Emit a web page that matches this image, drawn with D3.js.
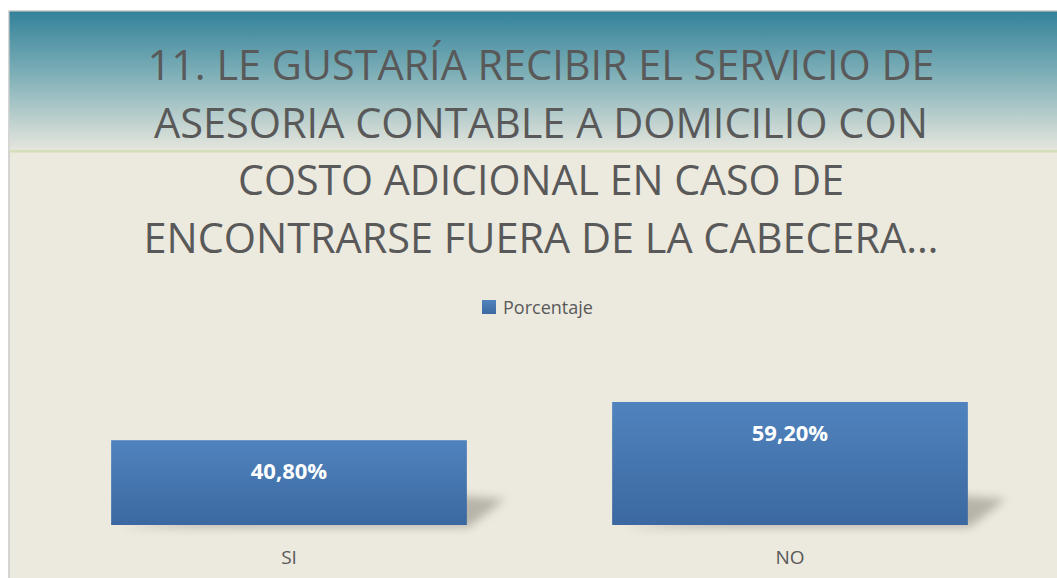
<head>
  <script src="https://d3js.org/d3.v7.min.js"></script>
</head>
<style>
  body { margin: 0; background: #fff; }
  text { font-family: "Open Sans", "Noto Sans", sans-serif; }
</style>
<body>
  <svg id="chart"></svg>
</body>
<script>
  var w = 1057;
  var h = 578;

  // data
  var categories = ["SI", "NO"];
  var values = [40.8, 59.2];
  var valueLabels = ["40,80%", "59,20%"];
  var seriesName = "Porcentaje";
  var titleLines = [
    "11. LE GUSTARÍA RECIBIR EL SERVICIO DE",
    "ASESORIA CONTABLE A DOMICILIO CON",
    "COSTO ADICIONAL EN CASO DE",
    "ENCONTRARSE FUERA DE LA CABECERA…"
  ];
  var titleWidths = [787, 774, 606, 795];

  var svg = d3.select("#chart").attr("width", w).attr("height", h);
  var defs = svg.append("defs");

  var bg = defs.append("linearGradient").attr("id", "hdr").attr("x1", 0).attr("y1", 0).attr("x2", 0).attr("y2", 1);
  bg.append("stop").attr("offset", "0%").attr("stop-color", "#33829a");
  bg.append("stop").attr("offset", "45%").attr("stop-color", "#7eafb7");
  bg.append("stop").attr("offset", "100%").attr("stop-color", "#e6e6de");

  var bar = defs.append("linearGradient").attr("id", "bar").attr("x1", 0).attr("y1", 0).attr("x2", 0).attr("y2", 1);
  bar.append("stop").attr("offset", "0%").attr("stop-color", "#5083be");
  bar.append("stop").attr("offset", "100%").attr("stop-color", "#3b68a0");

  defs.append("filter").attr("id", "blur").attr("x", "-50%").attr("y", "-50%").attr("width", "200%").attr("height", "200%")
    .append("feGaussianBlur").attr("stdDeviation", 5);

  // frame + background
  svg.append("rect").attr("x", 9).attr("y", 11).attr("width", w).attr("height", h)
    .attr("fill", "#ece9df").attr("stroke", "#c9c9c9").attr("stroke-width", 1.5);
  svg.append("rect").attr("x", 9.5).attr("y", 11.5).attr("width", w).attr("height", 139)
    .attr("fill", "url(#hdr)");
  svg.append("rect").attr("x", 9.5).attr("y", 150).attr("width", w).attr("height", 2.5)
    .attr("fill", "#d3e0b9");

  // title
  svg.append("g").selectAll("text")
    .data(titleLines)
    .enter().append("text")
    .attr("x", 541)
    .attr("y", function(d, i){ return 80 + i * 57.5; })
    .attr("text-anchor", "middle")
    .attr("font-size", 42)
    .attr("fill", "#595959")
    .attr("textLength", function(d, i){ return titleWidths[i]; })
    .attr("lengthAdjust", "spacingAndGlyphs")
    .text(function(d){ return d; });

  // legend
  svg.append("rect").attr("x", 482).attr("y", 300).attr("width", 14).attr("height", 14).attr("fill", "url(#bar)");
  svg.append("text").attr("x", 503).attr("y", 314).attr("font-size", 18).attr("fill", "#595959").text(seriesName);

  // scales
  var x = d3.scaleBand()
    .domain(categories)
    .range([38.5, 1040.5])
    .paddingInner(0.29)
    .paddingOuter(0.145);

  var y = d3.scaleLinear()
    .domain([0, 100])
    .range([525, 317.2]);

  var data = categories.map(function(c, i){ return {cat: c, value: values[i], label: valueLabels[i]}; });

  // shadows
  svg.append("g").selectAll("path")
    .data(data)
    .enter().append("path")
    .attr("d", function(d){
      var x0 = x(d.cat), x1 = x0 + x.bandwidth(), b = y(0);
      return "M" + (x0 + 10) + "," + (b + 2) + "L" + (x1 + 2) + "," + (b + 2) +
             "L" + (x1 + 38) + "," + (b - 26) + "L" + (x1 - 20) + "," + (b - 30) + "Z";
    })
    .attr("fill", "#8a877f")
    .attr("opacity", 0.55)
    .attr("filter", "url(#blur)");

  // bars
  svg.append("g").selectAll("rect")
    .data(data)
    .enter().append("rect")
    .attr("x", function(d){ return x(d.cat); })
    .attr("y", function(d){ return y(d.value); })
    .attr("width", x.bandwidth())
    .attr("height", function(d){ return y(0) - y(d.value); })
    .attr("fill", "url(#bar)");

  // value labels
  svg.append("g").selectAll("text")
    .data(data)
    .enter().append("text")
    .attr("x", function(d){ return x(d.cat) + x.bandwidth() / 2; })
    .attr("y", function(d){ return y(d.value) + 39; })
    .attr("text-anchor", "middle")
    .attr("font-size", 22)
    .attr("font-weight", "bold")
    .attr("fill", "#ffffff")
    .text(function(d){ return d.label; });

  // category axis
  var xAxis = svg.append("g")
    .attr("transform", "translate(0," + y(0) + ")")
    .call(d3.axisBottom(x).tickSize(0).tickPadding(39));
  xAxis.select(".domain").remove();
  xAxis.selectAll("text")
    .attr("font-size", 19)
    .attr("font-family", "'Open Sans', 'Noto Sans', sans-serif")
    .attr("fill", "#595959")
    .attr("dy", 0);
</script>
